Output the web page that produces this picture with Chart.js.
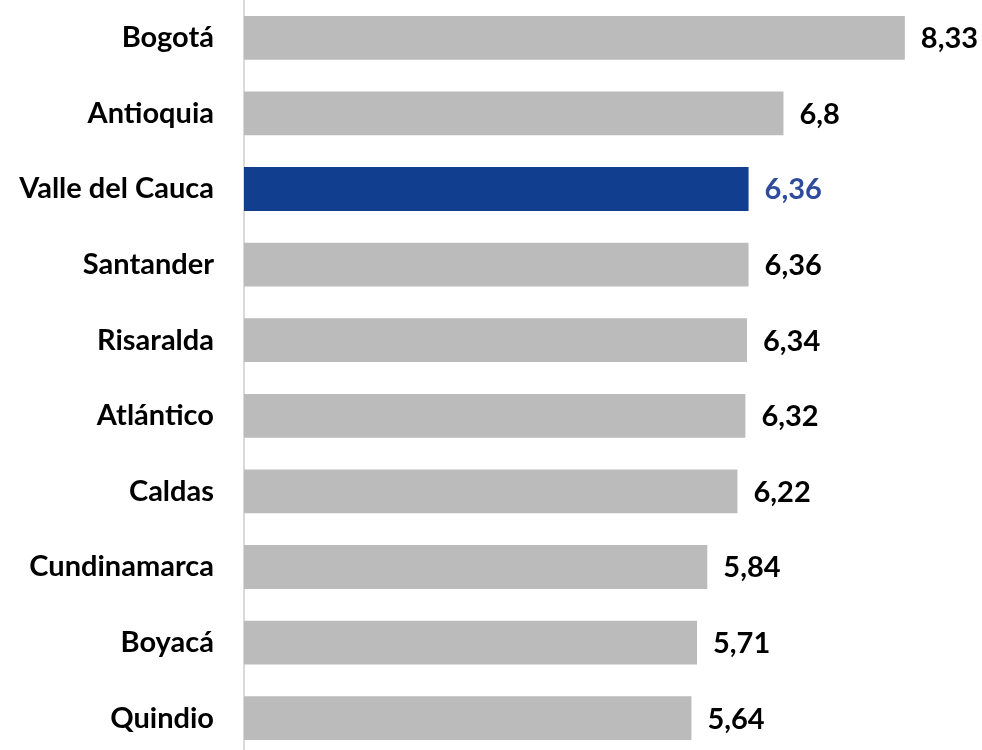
<!DOCTYPE html>
<html lang="es">
<head>
<meta charset="utf-8">
<title>Departamentos</title>
<script src="https://cdn.jsdelivr.net/npm/chart.js@4/dist/chart.umd.min.js"></script>
<style>
    html, body { margin: 0; padding: 0; background: #fff; overflow: hidden; }
    #wrap { width: 982px; height: 756px; }
</style>
</head>
<body>
<div id="wrap"><canvas id="myChart" width="982" height="756"></canvas></div>
<script>
// datos
const departamentos = ['Bogotá', 'Antioquia', 'Valle del Cauca', 'Santander', 'Risaralda',
    'Atlántico', 'Caldas', 'Cundinamarca', 'Boyacá', 'Quindio'];
const valores = [8.33, 6.8, 6.36, 6.36, 6.34, 6.32, 6.22, 5.84, 5.71, 5.64];
const etiquetas = ['8,33', '6,8', '6,36', '6,36', '6,34', '6,32', '6,22', '5,84', '5,71', '5,64'];
const destacado = 'Valle del Cauca';

const FONT = 'Lato, "Open Sans", sans-serif';

// etiquetas de valor al final de cada barra
const valueLabels = {
    id: 'valueLabels',
    afterDatasetsDraw(chart) {
        const ctx = chart.ctx;
        const meta = chart.getDatasetMeta(0);
        ctx.save();
        ctx.font = 'bold 29px ' + FONT;
        ctx.textAlign = 'left';
        ctx.textBaseline = 'middle';
        meta.data.forEach((bar, i) => {
            ctx.fillStyle = departamentos[i] === destacado ? '#2E4B9C' : '#000000';
            ctx.fillText(etiquetas[i], bar.x + 16, bar.y + 1);
        });
        ctx.restore();
    }
};

new Chart(document.getElementById('myChart'), {
    type: 'bar',
    data: {
        labels: departamentos,
        datasets: [{
            data: valores,
            backgroundColor: departamentos.map(d => d === destacado ? '#123E8F' : '#BBBBBB'),
            borderWidth: 0,
            categoryPercentage: 1,
            barPercentage: 0.58
        }]
    },
    options: {
        indexAxis: 'y',
        responsive: false,
        animation: false,
        layout: { autoPadding: false, padding: { top: 0, bottom: 0, left: 0, right: 24 } },
        plugins: {
            legend: { display: false },
            tooltip: { enabled: false }
        },
        scales: {
            x: {
                display: false,
                min: 0,
                max: 9
            },
            y: {
                afterFit(scale) {
                    scale.width = 244;
                    scale.paddingTop = 0; // sin margen arriba/abajo
                    scale.paddingBottom = 0;
                },
                grid: { display: false, drawTicks: false },
                border: { display: true, color: '#D9D9D9', width: 2 },
                ticks: {
                    color: '#000000',
                    padding: 30,
                    font: { family: FONT, size: 29, weight: 'bold' }
                }
            }
        }
    },
    plugins: [valueLabels]
});
</script>
</body>
</html>
